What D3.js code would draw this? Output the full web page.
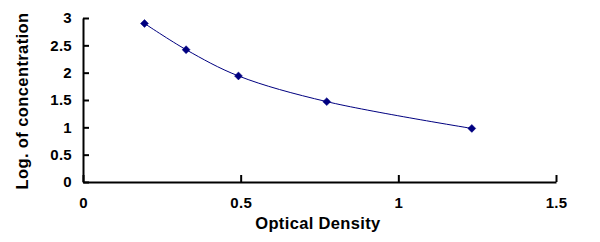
<!DOCTYPE html>
<html>
<head>
<meta charset="utf-8">
<script src="https://cdn.jsdelivr.net/npm/d3@7"></script>
<style>
  body { margin: 0; background: #fff; }
  svg text { font-family: Arial, "Liberation Sans", sans-serif; font-weight: bold; fill: #000; }
</style>
</head>
<body>
<div id="chart"></div>
<script>
// values
const opticalDensity = [0.195, 0.327, 0.493, 0.773, 1.233];
const logConcentration = [2.90, 2.42, 1.94, 1.47, 0.98];
const xTicks = [0, 0.5, 1, 1.5];
const yTicks = [0, 0.5, 1, 1.5, 2, 2.5, 3];

drawChart();

function drawChart() {
    const width = 600;
    const height = 242;
    const margin = { top: 18, right: 44, bottom: 60, left: 83 };
    const innerWidth = width - margin.left - margin.right;
    const innerHeight = height - margin.top - margin.bottom;

    const svg = d3.select('#chart')
        .append('svg')
        .attr('width', width)
        .attr('height', height);

    const g = svg.append('g').attr('transform', `translate(${margin.left}, ${margin.top})`);

    const x = d3.scaleLinear().domain([0, 1.5]).range([0, innerWidth]);
    const y = d3.scaleLinear().domain([0, 3]).range([innerHeight, 0]);

    // axes with ticks pointing into the plot
    const xAxis = g.append('g')
        .attr('transform', `translate(0, ${innerHeight})`)
        .call(d3.axisBottom(x).tickValues(xTicks).tickFormat(d3.format('')).tickSizeInner(-7).tickSizeOuter(0).tickPadding(15));

    const yAxis = g.append('g')
        .call(d3.axisLeft(y).tickValues(yTicks).tickFormat(d3.format('')).tickSizeInner(-6).tickSizeOuter(0).tickPadding(11));

    [xAxis, yAxis].forEach(function(a) {
        a.select('.domain').attr('stroke', '#000').attr('stroke-width', 2);
        a.selectAll('.tick line').attr('stroke', '#000').attr('stroke-width', 2);
        a.selectAll('.tick text').style('font-size', '15px').style('letter-spacing', '0.3px').attr('fill', '#000');
    });

    const points = opticalDensity.map(function(d, i) { return [d, logConcentration[i]]; });

    const line = d3.line()
        .x(function(d) { return x(d[0]); })
        .y(function(d) { return y(d[1]); })
        .curve(d3.curveCatmullRom.alpha(0.5));

    g.append('path')
        .datum(points)
        .attr('d', line)
        .attr('fill', 'none')
        .attr('stroke', '#000080')
        .attr('stroke-width', 1);

    g.selectAll('path.marker')
        .data(points)
        .join('path')
        .attr('class', 'marker')
        .attr('d', d3.symbol().type(d3.symbolDiamond2).size(40))
        .attr('transform', function(d) { return `translate(${x(d[0])}, ${y(d[1])})`; })
        .attr('fill', '#000080')
        .attr('stroke', '#000080')
        .attr('stroke-width', 0.5);

    // axis titles
    svg.append('text')
        .attr('x', margin.left + x(0.745))
        .attr('y', 229)
        .attr('text-anchor', 'middle')
        .style('font-size', '16.5px')
        .style('letter-spacing', '0.35px')
        .text('Optical Density');

    svg.append('text')
        .attr('transform', 'translate(28, 101) rotate(-90)')
        .attr('text-anchor', 'middle')
        .style('font-size', '16.5px')
        .style('letter-spacing', '0.4px')
        .text('Log. of concentration');
}
</script>
</body>
</html>
